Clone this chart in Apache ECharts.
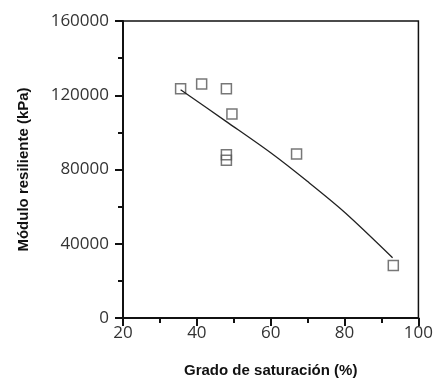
<!DOCTYPE html>
<html>
<head>
<meta charset="utf-8">
<script src="https://cdn.jsdelivr.net/npm/echarts@6/dist/echarts.min.js"></script>
<style>html,body{margin:0;padding:0;background:#fff;}#c{width:436px;height:383px;}</style>
</head>
<body>
<div id="c"></div>
<script>
// Measured points
const saturation = [35.6, 41.3, 48.0, 49.5, 48.0, 48.0, 67.0, 93.2];
const modulus = [123500, 126000, 123500, 109900, 88000, 85000, 88400, 28300];
// Fitted trend line
const fitSaturation = [35.6, 48, 60, 70, 80, 93];
const fitModulus = [123000, 105800, 89000, 73500, 57000, 32500];

const xTitle = 'Grado de saturación (%)';
const yTitle = 'Módulo resiliente (kPa)';

const chart = echarts.init(document.getElementById('c'), null, {renderer: 'canvas'});
const font = '"Open Sans", sans-serif';
const titleFont = '"Liberation Sans", Arial, sans-serif';
chart.setOption({
  animation: false,
  backgroundColor: '#fff',
  grid: {left: 123, right: 13, top: 21, bottom: 62, show: true, borderColor: '#111', borderWidth: 1.5, backgroundColor: 'transparent'},
  xAxis: {
    type: 'value', min: 20, max: 100, interval: 20,
    name: xTitle, nameLocation: 'middle', nameGap: 45,
    nameTextStyle: {fontFamily: titleFont, fontWeight: 'bold', fontSize: 15, color: '#111'},
    axisLine: {lineStyle: {color: '#111', width: 2}},
    axisTick: {length: 8, lineStyle: {color: '#111', width: 2}},
    minorTick: {show: true, splitNumber: 2, length: 5, lineStyle: {color: '#111', width: 2}},
    axisLabel: {fontFamily: font, fontSize: 17, color: '#333', margin: 7},
    splitLine: {show: false}
  },
  yAxis: {
    type: 'value', min: 0, max: 160000, interval: 40000,
    name: yTitle, nameLocation: 'middle', nameGap: 92,
    nameTextStyle: {fontFamily: titleFont, fontWeight: 'bold', fontSize: 15, color: '#111'},
    axisLine: {lineStyle: {color: '#111', width: 2}},
    axisTick: {length: 8, lineStyle: {color: '#111', width: 2}},
    minorTick: {show: true, splitNumber: 2, length: 5, lineStyle: {color: '#111', width: 2}},
    axisLabel: {fontFamily: font, fontSize: 17, color: '#333', margin: 14, formatter: v => String(v)},
    splitLine: {show: false}
  },
  series: [
    {
      type: 'line',
      data: fitSaturation.map((x, i) => [x, fitModulus[i]]),
      smooth: 0.3,
      symbol: 'none',
      lineStyle: {color: '#222', width: 1.3}
    },
    {
      type: 'scatter',
      data: saturation.map((x, i) => [x, modulus[i]]),
      symbol: 'rect',
      symbolSize: 10,
      itemStyle: {color: 'rgba(255,255,255,0)', borderColor: '#555', borderWidth: 1.5}
    }
  ]
});
</script>
</body>
</html>
